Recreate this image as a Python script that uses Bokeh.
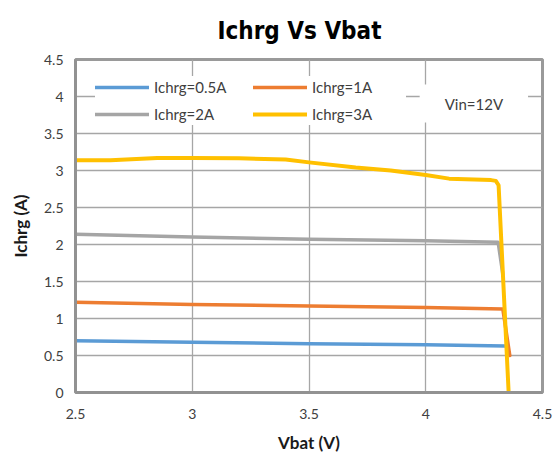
from bokeh.plotting import figure
from bokeh.models import Range1d, Legend, LegendItem, Label, FixedTicker
from bokeh.embed import file_html
from bokeh.resources import INLINE

# ---- data ----
vbat_05 = [2.5, 3.0, 3.5, 4.0, 4.34]
ichrg_05 = [0.70, 0.68, 0.66, 0.645, 0.63]

vbat_1 = [2.5, 3.0, 3.5, 4.0, 4.33, 4.36]
ichrg_1 = [1.22, 1.19, 1.17, 1.15, 1.13, 0.50]

vbat_2 = [2.5, 3.0, 3.5, 4.0, 4.31, 4.33]
ichrg_2 = [2.14, 2.10, 2.07, 2.05, 2.03, 1.60]

vbat_3 = [2.5, 2.65, 2.85, 3.0, 3.2, 3.4, 3.5, 3.7, 3.85, 4.0, 4.1, 4.28, 4.30, 4.312, 4.355]
ichrg_3 = [3.14, 3.14, 3.17, 3.17, 3.165, 3.15, 3.11, 3.04, 3.0, 2.94, 2.89, 2.87, 2.86, 2.80, 0.0]

series_labels = ["Ichrg=0.5A", "Ichrg=1A", "Ichrg=2A", "Ichrg=3A"]
series_colors = ["#5B9BD5", "#ED7D31", "#A5A5A5", "#FFC000"]

x_ticks = [2.5, 3, 3.5, 4, 4.5]
x_tick_labels = ["2.5", "3", "3.5", "4", "4.5"]
y_ticks = [0, 0.5, 1, 1.5, 2, 2.5, 3, 3.5, 4, 4.5]
y_tick_labels = ["0", "0.5", "1", "1.5", "2", "2.5", "3", "3.5", "4", "4.5"]

title_text = "Ichrg Vs Vbat"
x_title = "Vbat (V)"
y_title = "Ichrg (A)"
note_text = "Vin=12V"

# ---- figure ----
FONT = "Lato"
p = figure(width=553, height=456, output_backend="svg", toolbar_location=None,
           x_range=Range1d(2.5, 4.5), y_range=Range1d(0, 4.5),
           min_border_left=75, min_border_right=11, min_border_top=58,
           min_border_bottom=64)
p.background_fill_color = "white"
p.border_fill_color = "white"
p.outline_line_color = "#9a9a9a"
p.outline_line_width = 3

p.title.text = title_text
p.title.text_font = "DejaVu Sans Condensed"
p.title.text_font_size = "24px"
p.title.text_font_style = "bold"
p.title.text_color = "black"
p.title.align = "left"
p.title.offset = 142
p.title.standoff = 29

for ax in (p.xaxis[0], p.yaxis[0]):
    ax.axis_line_color = "#929292"
    ax.axis_line_width = 3
    ax.major_tick_in = 0
    ax.major_tick_out = 0
    ax.minor_tick_in = 0
    ax.minor_tick_out = 0
    ax.major_label_text_font = FONT
    ax.major_label_text_font_size = "14px"
    ax.major_label_text_color = "#404040"
    ax.axis_label_text_font = FONT
    ax.axis_label_text_font_size = "17px"
    ax.axis_label_text_font_style = "bold"
    ax.axis_label_text_color = "#1a1a1a"

p.xaxis.ticker = FixedTicker(ticks=x_ticks)
p.yaxis.ticker = FixedTicker(ticks=y_ticks)
p.xaxis.major_label_overrides = {v: s for v, s in zip(x_ticks, x_tick_labels)}
p.yaxis.major_label_overrides = {v: s for v, s in zip(y_ticks, y_tick_labels)}
p.xaxis.axis_label = x_title
p.yaxis.axis_label = y_title
p.xaxis.major_label_standoff = 16
p.xaxis.axis_label_standoff = 10
p.yaxis.major_label_standoff = 12
p.yaxis.axis_label_standoff = 10

p.xgrid.ticker = FixedTicker(ticks=x_ticks)
p.ygrid.ticker = FixedTicker(ticks=y_ticks)
for g in (p.xgrid[0], p.ygrid[0]):
    g.grid_line_color = "#a6a6a6"
    g.grid_line_width = 1.3

series = [(vbat_05, ichrg_05), (vbat_1, ichrg_1), (vbat_2, ichrg_2), (vbat_3, ichrg_3)]
renderers = []
for (xs, ys), col in zip(series, series_colors):
    w = 4 if col == "#FFC000" else 3.5
    r = p.line(xs, ys, line_color=col, line_width=w, line_cap="round", line_join="round")
    renderers.append(r)

items = [LegendItem(label=lbl, renderers=[r]) for lbl, r in zip(series_labels, renderers)]
legend = Legend(items=items, location=(20, 267), orientation="horizontal", ncols=2,
                padding=9, spacing=5, margin=0,
                glyph_width=54, glyph_height=20, label_height=22, label_width=94,
                label_standoff=5,
                label_text_font=FONT, label_text_font_size="15px", label_text_color="#404040",
                background_fill_color="white", background_fill_alpha=1.0,
                border_line_color=None)
p.add_layout(legend)

note = Label(x=4.206, y=3.905, text=note_text, text_align="center", text_baseline="middle",
             text_font=FONT, text_font_size="15px", text_color="#404040",
             background_fill_color="white", background_fill_alpha=1.0,
             border_line_color=None,
             padding=dict(left=25, right=25, top=10, bottom=10))
p.add_layout(note)

open("out.html", "w").write(file_html(p, INLINE))
